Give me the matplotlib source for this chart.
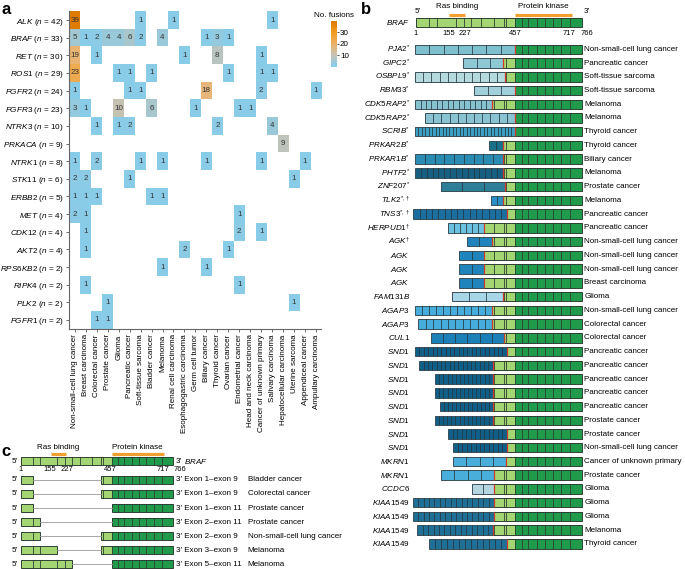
import numpy as np
import matplotlib
matplotlib.use('Agg')
import matplotlib.pyplot as plt
from matplotlib.colors import LinearSegmentedColormap
from matplotlib.patches import Rectangle

plt.rcParams['font.family'] = ['Liberation Sans', 'DejaVu Sans']
plt.rcParams['mathtext.fontset'] = 'custom'
plt.rcParams['mathtext.rm'] = 'Liberation Sans'
plt.rcParams['mathtext.it'] = 'Liberation Sans:italic'
plt.rcParams['mathtext.bf'] = 'Liberation Sans:bold'

# ---------------- panel a data ----------------
cancers = ['Non-small-cell lung cancer', 'Breast carcinoma', 'Colorectal cancer', 'Prostate cancer',
           'Glioma', 'Pancreatic cancer', 'Soft-tissue sarcoma', 'Bladder cancer', 'Melanoma',
           'Renal cell carcinoma', 'Esophagogastric carcinoma', 'Germ cell tumor', 'Biliary cancer',
           'Thyroid cancer', 'Ovarian cancer', 'Endometrial cancer', 'Head and neck carcinoma',
           'Cancer of unknown primary', 'Salivary carcinoma', 'Hepatocellular carcinoma',
           'Uterine sarcoma', 'Appendiceal cancer', 'Ampullary carcinoma']
genes = ['ALK', 'BRAF', 'RET', 'ROS1', 'FGFR2', 'FGFR3', 'NTRK3', 'PRKACA', 'NTRK1', 'STK11',
         'ERBB2', 'MET', 'CDK12', 'AKT2', 'RPS6KB2', 'RIPK4', 'PLK2', 'FGFR1']
gene_totals = [42, 33, 30, 29, 24, 23, 10, 9, 8, 6, 5, 4, 4, 4, 2, 2, 2, 2]

# (cancer column, number of fusions)
alk = [(0, 39), (6, 1), (9, 1), (18, 1)]
braf = [(0, 5), (1, 1), (2, 2), (3, 4), (4, 4), (5, 6), (6, 2), (8, 4), (12, 1), (13, 3), (14, 1)]
ret = [(0, 19), (2, 1), (10, 1), (13, 8), (17, 1)]
ros1 = [(0, 23), (4, 1), (5, 1), (7, 1), (14, 1), (17, 1), (18, 1)]
fgfr2 = [(0, 1), (5, 1), (6, 1), (12, 18), (17, 2), (22, 1)]
fgfr3 = [(0, 3), (1, 1), (4, 10), (7, 6), (11, 1), (15, 1), (16, 1)]
ntrk3 = [(2, 1), (4, 1), (5, 2), (13, 2), (18, 4)]
prkaca = [(19, 9)]
ntrk1 = [(0, 1), (2, 2), (6, 1), (8, 1), (12, 1), (17, 1), (21, 1)]
stk11 = [(0, 2), (1, 2), (5, 1), (20, 1)]
erbb2 = [(0, 1), (1, 1), (2, 1), (7, 1), (8, 1)]
met = [(0, 2), (1, 1), (15, 1)]
cdk12 = [(1, 1), (15, 2), (17, 1)]
akt2 = [(1, 1), (10, 2), (14, 1)]
rps6kb2 = [(8, 1), (12, 1)]
ripk4 = [(1, 1), (15, 1)]
plk2 = [(3, 1), (20, 1)]
fgfr1 = [(2, 1), (3, 1)]
gene_hits = [alk, braf, ret, ros1, fgfr2, fgfr3, ntrk3, prkaca, ntrk1, stk11,
             erbb2, met, cdk12, akt2, rps6kb2, ripk4, plk2, fgfr1]

# ---------------- BRAF structure ----------------
braf_exons = [1, 64, 98, 184, 223, 257, 300, 360, 405, 416, 457,
              488, 519, 557, 595, 631, 669, 710, 766]
ras_domain = (155, 227)
kinase_domain = (457, 717)
braf_ticks = [1, 155, 227, 457, 717, 766]

# ---------------- panel b data ----------------
b_genes = ['PJA2', 'GIPC2', 'OSBPL9', 'RBM33', 'CDK5RAP2', 'CDK5RAP2', 'SCRIB', 'PRKAR2B',
           'PRKAR1B', 'PHTF2', 'ZNF207', 'TLK2', 'TNS3', 'HERPUD1', 'AGK', 'AGK', 'AGK', 'AGK',
           'FAM131B', 'AGAP3', 'AGAP3', 'CUL1', 'SND1', 'SND1', 'SND1', 'SND1', 'SND1', 'SND1',
           'SND1', 'SND1', 'MKRN1', 'MKRN1', 'CCDC6', 'KIAA1549', 'KIAA1549', 'KIAA1549', 'KIAA1549']
b_marks = ['*'] * 11 + [r'*,\dagger'] * 2 + [r'\dagger'] * 2 + [''] * 22
b_cancers = ['Non-small-cell lung cancer', 'Pancreatic cancer', 'Soft-tissue sarcoma',
             'Soft-tissue sarcoma', 'Melanoma', 'Melanoma', 'Thyroid cancer', 'Thyroid cancer',
             'Biliary cancer', 'Melanoma', 'Prostate cancer', 'Melanoma', 'Pancreatic cancer',
             'Pancreatic cancer', 'Non-small-cell lung cancer', 'Non-small-cell lung cancer',
             'Non-small-cell lung cancer', 'Breast carcinoma', 'Glioma',
             'Non-small-cell lung cancer', 'Colorectal cancer', 'Colorectal cancer',
             'Pancreatic cancer', 'Pancreatic cancer', 'Pancreatic cancer', 'Pancreatic cancer',
             'Pancreatic cancer', 'Prostate cancer', 'Prostate cancer', 'Non-small-cell lung cancer',
             'Cancer of unknown primary', 'Prostate cancer', 'Glioma', 'Glioma', 'Glioma',
             'Melanoma', 'Thyroid cancer']
b_start = [-2, 220, -2, 270, -2, 44, -2, 336, -2, -2, 117, 347, -10, 151, 235, 200, 200, 201,
           169, -2, 13, 70, -2, 18, 91, 91, 113, 88, 151, 174, 174, 117, 258, -13, -13, 8, 64]
b_break = [457, 404, 411, 457, 350, 457, 457, 404, 401, 401, 411, 404, 422, 315, 353, 316, 316,
           316, 401, 353, 353, 407, 419, 355, 355, 355, 355, 355, 419, 419, 415, 362, 362, 362,
           362, 358, 419]
b_partner_exons = [7, 3, 11, 3, 14, 11, 29, 2, 9, 15, 3, 2, 15, 6, 2, 2, 2, 2, 3, 11, 10, 6,
                   21, 17, 14, 14, 13, 14, 13, 12, 4, 4, 2, 15, 15, 14, 13]
b_colors = ['#7fc0cf', '#8ec8d4', '#b5dade', '#a2d0da', '#86c2d0', '#8ac4d2', '#3d9fc2',
            '#18708a', '#2a8cb2', '#175f80', '#2f7e98', '#2a8fc4', '#1a6ea0', '#6cc0e0',
            '#1f84bc', '#1f84bc', '#1f84bc', '#1f84bc', '#a6d6e8', '#45acdc', '#45acdc',
            '#1c80b8', '#105f88', '#105f88', '#105f88', '#105f88', '#105f88', '#105f88',
            '#105f88', '#105f88', '#4aaedb', '#4aaedb', '#b5d5e0', '#1f6f96', '#1f6f96',
            '#1f6f96', '#1f6f96']

# ---------------- panel c data ----------------
c_5p_exon = [1, 1, 1, 2, 2, 3, 5]
c_3p_exon = [9, 9, 11, 11, 9, 9, 11]
c_cancers = ['Bladder cancer', 'Colorectal cancer', 'Prostate cancer', 'Prostate cancer',
             'Non-small-cell lung cancer', 'Melanoma', 'Melanoma']

LIGHT = '#a3d673'
DARK = '#1f9b4b'
EDGE = '#2d3f33'
ORANGE = '#f0a030'
FS = 5.8

# where the residue numbers are written (nudged apart so they do not collide)
b_tick_text_x = [1, 155, 227, 457, 705, 790]
c_tick_text_x = [1, 148, 232, 450, 716, 800]

W, H = 685, 569
fig = plt.figure(figsize=(W / 100, H / 100), dpi=100)


def px_axes(x0, y0, x1, y1):
    return fig.add_axes([x0 / W, 1 - y1 / H, (x1 - x0) / W, (y1 - y0) / H])


def braf_part(ax, y, x0, h):
    # BRAF segment from x0 to the 3' end, with exon dividers
    if x0 < kinase_domain[0]:
        ax.add_patch(Rectangle((x0, y - h / 2), kinase_domain[0] - x0, h, fc=LIGHT, ec='none'))
    k0 = max(x0, kinase_domain[0])
    ax.add_patch(Rectangle((k0, y - h / 2), 766 - k0, h, fc=DARK, ec='none'))
    divs = [e for e in braf_exons[1:-1] if e > x0 + 1]
    ax.vlines(divs, y - h / 2, y + h / 2, color=EDGE, lw=0.6)
    ax.add_patch(Rectangle((x0, y - h / 2), 766 - x0, h, fc='none', ec=EDGE, lw=0.7))


def braf_header(ax, y, h, y_dom, y_lab, y_num, text_x):
    braf_part(ax, y, 1, h)
    for (a, b), lab in zip([ras_domain, kinase_domain], ['Ras binding', 'Protein kinase']):
        ax.plot([a, b], [y_dom, y_dom], color=ORANGE, lw=2.3, solid_capstyle='butt')
        ax.text((a + b) / 2, y_lab, lab, ha='center', va='center', fontsize=FS)
    for t, tx in zip(braf_ticks, text_x):
        ax.text(tx, y_num, str(t), ha='center', va='center', fontsize=5.5)


# ---------------- panel a ----------------
mat = np.zeros((len(genes), len(cancers)))
for r, hits in enumerate(gene_hits):
    for c, v in hits:
        mat[r, c] = v

cmap = LinearSegmentedColormap.from_list('fus', [
    (0.0, '#87cdea'), (0.05, '#8ccbe6'), (0.25, '#c6c3b3'), (0.47, '#e9b474'),
    (0.6, '#f0a848'), (0.75, '#f39c1e'), (1.0, '#dd7800')])

ax_a = px_axes(69.3, 11.2, 321.5, 328.8)
im = ax_a.imshow(np.ma.masked_equal(mat, 0), cmap=cmap, vmin=0, vmax=40,
                 aspect='auto', interpolation='nearest')
for r in range(len(genes)):
    for c in range(len(cancers)):
        if mat[r, c] > 0:
            ax_a.text(c, r, str(int(mat[r, c])), ha='center', va='center',
                      fontsize=FS, color='#333333')
ax_a.set_xticks(range(len(cancers)))
ax_a.set_xticklabels(cancers, rotation=90, fontsize=FS)
ax_a.set_yticks(range(len(genes)))
ax_a.set_yticklabels([rf'$\mathit{{{g}}}$ ($\mathit{{n}}$ = {n})'
                      for g, n in zip(genes, gene_totals)], fontsize=5.9)
ax_a.tick_params(length=2.5, width=0.6, color='#555555', pad=1.5)
for s in ['top', 'right']:
    ax_a.spines[s].set_visible(False)
for s in ['left', 'bottom']:
    ax_a.spines[s].set_color('#666666')
    ax_a.spines[s].set_linewidth(0.8)

cax = px_axes(330.5, 21, 336.5, 66.7)
cb = fig.colorbar(im, cax=cax, ticks=[10, 20, 30])
cb.outline.set_visible(False)
cax.tick_params(labelsize=FS, length=1.5, width=0.5, pad=1)
cax.set_title('No. fusions', fontsize=FS, pad=3)

# ---------------- panel b ----------------
ax_b = px_axes(405, 0, 590, 560)
ax_b.set_xlim(-48.2, 802)
ax_b.set_ylim(37.17, -3.588)
ax_b.axis('off')
hb = 0.69

braf_header(ax_b, -1.94, hb, -2.52, -3.1, -1.16, b_tick_text_x)
ax_b.text(-25, -1.94, r'$\mathit{BRAF}$', ha='right', va='center', fontsize=FS)
ax_b.text(-5, -2.74, '5′', ha='left', va='center', fontsize=FS)
ax_b.text(775, -2.74, '3′', ha='left', va='center', fontsize=FS)

for i in range(len(b_genes)):
    s, bp = b_start[i], b_break[i]
    ax_b.add_patch(Rectangle((s, i - hb / 2), bp - s, hb, fc=b_colors[i], ec='#3a4f58', lw=0.7))
    n = b_partner_exons[i]
    ax_b.vlines(np.linspace(s, bp, n + 1)[1:-1], i - hb / 2, i + hb / 2, color='#24363d', lw=0.55)
    braf_part(ax_b, i, bp, hb)
    ax_b.vlines(bp, i - hb / 2, i + hb / 2, color='#d03a2a', lw=0.9)
    mark = '^{' + b_marks[i] + '}' if b_marks[i] else ''
    ax_b.text(-25, i, rf'$\mathit{{{b_genes[i]}}}{mark}$', ha='right', va='center', fontsize=FS)
    ax_b.text(776, i, b_cancers[i], ha='left', va='center', fontsize=FS)

# ---------------- panel c ----------------
ax_c = px_axes(10, 440, 180, 569)
ax_c.set_xlim(-52.6, 799.5)
ax_c.set_ylim(7.714, -1.5)
ax_c.axis('off')
hc = 0.64

braf_header(ax_c, 0, hc, -0.48, -0.98, 0.64, c_tick_text_x)
ax_c.text(-45, 0, '5′', ha='left', va='center', fontsize=FS)
ax_c.text(779, 0, '3′', ha='left', va='center', fontsize=FS)
ax_c.text(818, 0, r'$\mathit{BRAF}$', ha='left', va='center', fontsize=FS)

for k in range(len(c_cancers)):
    y = 1.357 + k
    end5 = braf_exons[c_5p_exon[k]]
    start3 = braf_exons[c_3p_exon[k] - 1]
    ax_c.plot([end5, start3], [y, y], color='#9a9a9a', lw=0.6)
    ax_c.add_patch(Rectangle((1, y - hc / 2), end5 - 1, hc, fc=LIGHT, ec=EDGE, lw=0.7))
    ax_c.vlines(braf_exons[1:c_5p_exon[k]], y - hc / 2, y + hc / 2, color=EDGE, lw=0.6)
    braf_part(ax_c, y, start3, hc)
    ax_c.text(-45, y, '5′', ha='left', va='center', fontsize=FS)
    ax_c.text(779, y, f'3′ Exon {c_5p_exon[k]}–exon {c_3p_exon[k]}', ha='left', va='center', fontsize=FS)
    ax_c.text(1138, y, c_cancers[k], ha='left', va='center', fontsize=FS)

# panel letters
fig.text(2 / W, 1 - 9 / H, 'a', fontsize=12, fontweight='bold', va='center')
fig.text(361 / W, 1 - 10 / H, 'b', fontsize=12, fontweight='bold', va='center')
fig.text(1 / W, 1 - 451 / H, 'c', fontsize=12, fontweight='bold', va='center')

fig.savefig('out.png', dpi=100)
